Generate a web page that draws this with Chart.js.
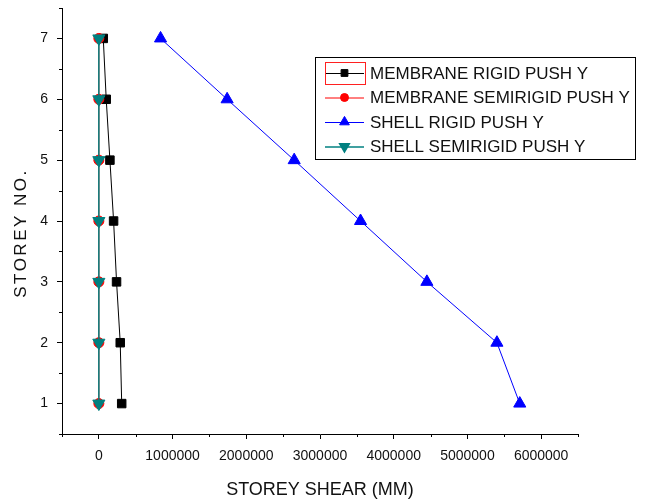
<!DOCTYPE html>
<html>
<head>
<meta charset="utf-8">
<script src="https://cdn.jsdelivr.net/npm/chart.js@4.4.1/dist/chart.umd.min.js"></script>
<style>
  html, body { margin: 0; padding: 0; background: #fff; }
  #wrap { width: 645px; height: 504px; position: relative; }
</style>
</head>
<body>
<div id="wrap"><canvas id="chart"></canvas></div>
<script>
// storey shear per floor, push in Y direction
const storeys = [1, 2, 3, 4, 5, 6, 7];
const membraneRigid = [310000, 290000, 240000, 200000, 150000, 100000, 60000];
const membraneSemirigid = [0, 0, 0, 0, 0, 0, 0];
const shellRigid = [5710000, 5400000, 4450000, 3550000, 2650000, 1740000, 837000];
const shellSemirigid = [0, 0, 0, 0, 0, 0, 0];

const seriesLabels = [
  "MEMBRANE RIGID PUSH Y",
  "MEMBRANE SEMIRIGID PUSH Y",
  "SHELL RIGID PUSH Y",
  "SHELL SEMIRIGID PUSH Y",
];

const xRange = [-500000, 6500000];
const yRange = [0.5, 7.5];
const xStep = 1000000;
const yStep = 1;

const FONT = '"Liberation Sans", Arial, sans-serif';
const TEXT = "#111";

const toPoints = (values) => values.map((v, i) => ({ x: v, y: storeys[i] }));

const isMajor = (value, step) => Math.abs(value / step - Math.round(value / step)) < 1e-6;

// short minor ticks half way between the labelled ones
const minorTicks = {
  id: "minorTicks",
  afterDraw(chart) {
    const { ctx, chartArea } = chart;
    const xs = chart.scales.x;
    const ys = chart.scales.y;
    ctx.save();
    ctx.strokeStyle = "#000";
    ctx.lineWidth = 1;
    ctx.beginPath();
    for (let v = xRange[0]; v <= xRange[1] + 1; v += xStep / 2) {
      if (isMajor(v, xStep)) continue;
      const px = Math.round(xs.getPixelForValue(v)) + 0.5;
      ctx.moveTo(px, chartArea.bottom);
      ctx.lineTo(px, chartArea.bottom + 3);
    }
    for (let v = yRange[0]; v <= yRange[1] + 1e-6; v += yStep / 2) {
      if (isMajor(v, yStep)) continue;
      const py = Math.round(ys.getPixelForValue(v)) + 0.5;
      ctx.moveTo(chartArea.left, py);
      ctx.lineTo(chartArea.left - 3, py);
    }
    ctx.stroke();
    ctx.restore();
  },
};

// vertical axis title, letter-spaced
const yTitle = {
  id: "yTitle",
  afterDraw(chart, args, opts) {
    const ctx = chart.ctx;
    const { chartArea } = chart;
    ctx.save();
    ctx.translate(opts.x, (chartArea.top + chartArea.bottom) / 2 + opts.shift);
    ctx.rotate(-Math.PI / 2);
    ctx.font = opts.size + "px " + FONT;
    ctx.letterSpacing = opts.spacing + "px";
    ctx.fillStyle = TEXT;
    ctx.textAlign = "center";
    ctx.textBaseline = "middle";
    ctx.fillText(opts.text, 0, 0);
    ctx.restore();
  },
};

// boxed legend with a line sample and marker for each series
const boxLegend = {
  id: "boxLegend",
  afterDatasetsDraw(chart, args, opts) {
    const ctx = chart.ctx;
    const { x, y, width, height, rowHeight, sampleWidth } = opts;
    ctx.save();
    ctx.fillStyle = "#fff";
    ctx.fillRect(x, y, width, height);
    ctx.strokeStyle = "#000";
    ctx.lineWidth = 1;
    ctx.strokeRect(x + 0.5, y + 0.5, width, height);

    chart.data.datasets.forEach((ds, i) => {
      const cy = y + 16 + i * rowHeight;
      const sx = x + 10;
      ctx.strokeStyle = ds.borderColor;
      ctx.lineWidth = ds.borderWidth;
      ctx.beginPath();
      ctx.moveTo(sx, cy + 0.5);
      ctx.lineTo(sx + sampleWidth, cy + 0.5);
      ctx.stroke();

      ctx.fillStyle = ds.pointBackgroundColor;
      ctx.strokeStyle = ds.pointBorderColor;
      Chart.helpers.drawPoint(ctx, {
        pointStyle: ds.pointStyle,
        radius: ds.pointRadius * 0.8,
        rotation: ds.pointRotation || 0,
        borderWidth: 1,
      }, sx + sampleWidth / 2, cy);

      ctx.fillStyle = TEXT;
      ctx.font = "17px " + FONT;
      ctx.textBaseline = "middle";
      ctx.textAlign = "left";
      ctx.fillText(ds.label, sx + sampleWidth + 6, cy + 1);
    });

    // selection frame around the first sample
    ctx.strokeStyle = "#ff2020";
    ctx.lineWidth = 1;
    ctx.strokeRect(x + 10.5, y + 5.5, sampleWidth + 1, 22);
    ctx.restore();
  },
};

const makeSeries = (label, values, color, style, radius, rotation, width, order) => ({
  label,
  data: toPoints(values),
  borderColor: color,
  borderWidth: width,
  pointStyle: style,
  pointRadius: radius,
  pointRotation: rotation,
  pointBackgroundColor: color,
  pointBorderColor: color,
  pointBorderWidth: 1,
  showLine: true,
  tension: 0,
  order,
});

new Chart(document.getElementById("chart"), {
  type: "scatter",
  data: {
    datasets: [
      makeSeries(seriesLabels[0], membraneRigid, "#000000", "rect", 6, 0, 1, 4),
      makeSeries(seriesLabels[1], membraneSemirigid, "#ff0000", "circle", 5, 0, 1, 3),
      makeSeries(seriesLabels[2], shellRigid, "#0000ff", "triangle", 7, 0, 1, 2),
      makeSeries(seriesLabels[3], shellSemirigid, "#008080", "triangle", 7, 180, 1.5, 1),
    ],
  },
  options: {
    responsive: true,
    maintainAspectRatio: false,
    animation: false,
    events: [],
    layout: { padding: { left: 0, top: 6, right: 67, bottom: 0 } },
    scales: {
      x: {
        type: "linear",
        min: xRange[0],
        max: xRange[1],
        afterFit: (scale) => {
          scale.height = 70;
          scale.paddingLeft = 0;
          scale.paddingRight = 0;
        },
        ticks: {
          stepSize: xStep / 2,
          autoSkip: false,
          maxRotation: 0,
          padding: 9,
          color: TEXT,
          font: { family: FONT, size: 14 },
          callback: (v) => (isMajor(v, xStep) && v >= 0 ? String(v) : ""),
        },
        grid: {
          drawOnChartArea: false,
          tickLength: 5,
          tickWidth: 1,
          tickColor: (c) => (c.tick && isMajor(c.tick.value, xStep) ? "#000" : "rgba(0,0,0,0)"),
        },
        border: { color: "#000", width: 1 },
        title: {
          display: true,
          text: "STOREY SHEAR (MM)",
          color: TEXT,
          font: { family: FONT, size: 18 },
          padding: { top: 0, bottom: 3 },
        },
      },
      y: {
        type: "linear",
        min: yRange[0],
        max: yRange[1],
        afterFit: (scale) => {
          scale.width = 62;
          scale.paddingTop = 0;
          scale.paddingBottom = 0;
        },
        ticks: {
          stepSize: yStep / 2,
          autoSkip: false,
          padding: 9,
          color: TEXT,
          font: { family: FONT, size: 14 },
          callback: (v) => (isMajor(v, yStep) ? String(v) : ""),
        },
        grid: {
          drawOnChartArea: false,
          tickLength: 5,
          tickWidth: 1,
          tickColor: (c) => (c.tick && isMajor(c.tick.value, yStep) ? "#000" : "rgba(0,0,0,0)"),
        },
        border: { color: "#000", width: 1 },
        title: { display: false },
      },
    },
    plugins: {
      legend: { display: false },
      tooltip: { enabled: false },
      yTitle: { text: "STOREY NO.", x: 21, shift: 12, size: 17, spacing: 2.5 },
      boxLegend: { x: 315, y: 57, width: 320, height: 102, rowHeight: 24.5, sampleWidth: 39 },
    },
  },
  plugins: [minorTicks, yTitle, boxLegend],
});
</script>
</body>
</html>
